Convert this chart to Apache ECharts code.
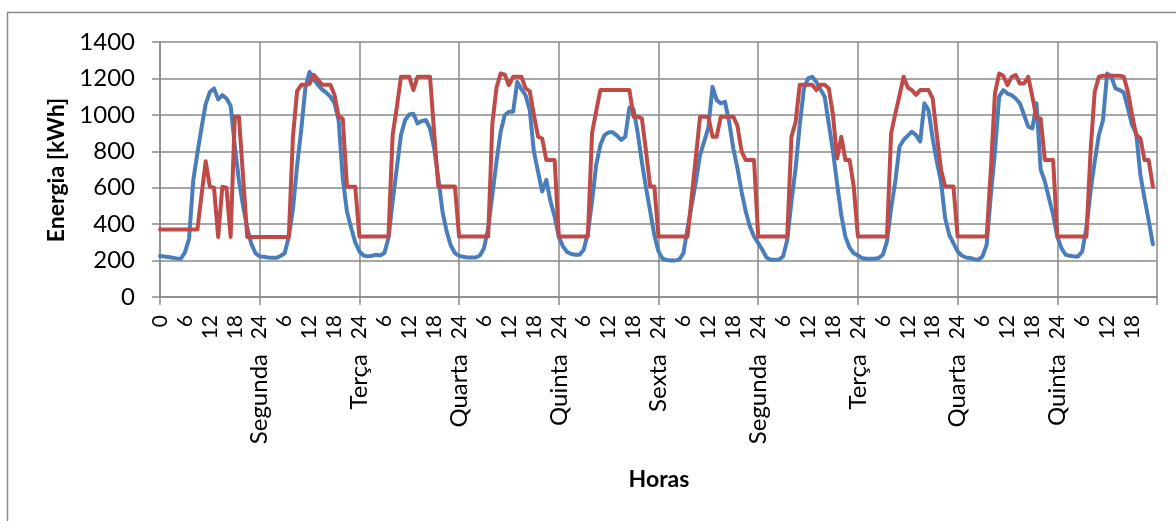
<!DOCTYPE html>
<html>
<head>
<meta charset="utf-8">
<script src="https://cdn.jsdelivr.net/npm/echarts@6/dist/echarts.min.js"></script>
<style>
html,body{margin:0;padding:0;background:#fff;}
#chart{width:1176px;height:521px;}
</style>
</head>
<body>
<div id="chart"></div>
<script>
// Hourly energy values (kWh), one row per day
var serieAzul = [
  225,222,220,216,212,210,245,320,640,790,930,1060,1125,1145,1085,1108,1090,1050,830,640,500,380,290,240,
  223,221,217,215,215,225,240,330,480,720,920,1150,1235,1195,1165,1140,1122,1100,1065,970,650,470,380,300,
  250,228,223,226,232,228,241,323,524,707,889,971,1002,1006,953,966,971,926,816,652,469,360,283,241,
  226,221,217,217,217,228,268,378,561,743,907,999,1017,1017,1181,1141,1108,1026,798,688,579,643,524,442,
  330,278,247,236,232,232,259,351,524,725,834,889,904,904,886,862,880,1040,1030,900,740,600,470,340,
  250,210,203,201,201,205,241,378,506,634,780,853,930,1154,1081,1063,1072,962,816,707,579,469,387,332,
  296,259,217,205,205,206,223,314,524,707,944,1145,1200,1209,1181,1139,1100,950,800,620,450,330,270,240,
  228,214,210,210,210,214,232,305,487,634,825,862,886,907,889,853,1063,1026,871,743,634,433,341,296,
  250,228,217,214,208,204,223,287,560,800,1100,1136,1117,1108,1090,1063,999,935,926,1063,700,634,542,451,
  332,268,232,226,223,223,250,378,579,743,889,971,1227,1209,1145,1136,1123,1035,944,898,670,542,420,290
];
var serieVermelha = [
  370,370,370,370,370,370,370,370,370,370,560,745,605,600,330,605,600,330,990,990,660,330,330,330,
  330,330,330,330,330,330,330,330,880,1130,1165,1165,1170,1220,1195,1165,1165,1165,1110,990,980,605,605,605,
  332,332,332,332,332,332,332,332,890,1040,1209,1209,1209,1136,1209,1209,1209,1209,900,606,606,606,606,606,
  332,332,332,332,332,332,332,332,950,1150,1227,1220,1163,1209,1209,1209,1145,1130,1000,880,870,752,752,752,
  332,332,332,332,332,332,332,332,900,1020,1136,1136,1136,1136,1136,1136,1136,1136,990,990,980,800,606,606,
  332,332,332,332,332,332,332,332,550,770,990,990,990,880,880,990,990,990,990,940,800,752,752,752,
  332,332,332,332,332,332,332,332,880,960,1165,1165,1165,1165,1136,1165,1165,1145,1000,761,880,752,752,606,
  332,332,332,332,332,332,332,332,900,1005,1105,1209,1150,1136,1110,1136,1136,1136,1090,890,700,606,606,606,
  332,332,332,332,332,332,332,332,700,1120,1227,1215,1163,1209,1218,1172,1172,1209,1100,980,980,752,752,752,
  332,332,332,332,332,332,332,332,800,1127,1209,1215,1215,1215,1215,1215,1209,1127,1000,889,871,752,752,606
];
var diasSemana = ['Segunda','Terça','Quarta','Quinta','Sexta','Segunda','Terça','Quarta','Quinta'];
var horasPorDia = 24;
var totalHoras = 240;
var yTicks = {min: 0, max: 1400, step: 200};

var categorias = [];
for (var i = 0; i <= totalHoras; i++) categorias.push(String(i));

var gray = '#8a8a8a';
var font = 'Lato';

function rotuloHora(value, index) {
  var i = Number(value);
  if (i === 0) return '0';
  var h = i % horasPorDia;
  return h === 0 ? '24' : String(h);
}

var chart = echarts.init(document.getElementById('chart'), null, {renderer: 'canvas'});
chart.setOption({
  animation: false,
  backgroundColor: '#ffffff',
  grid: {left: 160, right: 19, top: 42, bottom: 224, containLabel: false},
  xAxis: [{
    type: 'category',
    data: categorias,
    boundaryGap: false,
    axisLine: {show: true, lineStyle: {color: gray, width: 1.5}},
    axisTick: {show: true, length: 8, lineStyle: {color: gray, width: 1.5},
      interval: function (i) { return i % horasPorDia === 0; }},
    splitLine: {show: true, lineStyle: {color: gray, width: 1.5},
      interval: function (i) { return i % horasPorDia === 0; }},
    axisLabel: {
      show: true, rotate: 90, margin: 18, color: '#000', fontFamily: font, fontSize: 21,
      padding: [8, 0, 0, 0],
      interval: function (i) { return i % 6 === 0 && i < totalHoras; },
      formatter: rotuloHora
    }
  }, {
    type: 'category',
    data: categorias,
    boundaryGap: false,
    position: 'bottom',
    axisLine: {show: false},
    axisTick: {show: false},
    splitLine: {show: false},
    axisLabel: {
      show: true, rotate: 90, margin: 57, color: '#000', fontFamily: font, fontSize: 24,
      padding: [8, 0, 0, 0],
      interval: function (i) { return i % horasPorDia === 0 && i > 0 && i < totalHoras; },
      formatter: function (value) { var d = Number(value) / horasPorDia; return diasSemana[d - 1] || ''; }
    }
  }],
  yAxis: {
    type: 'value',
    min: yTicks.min, max: yTicks.max, interval: yTicks.step,
    axisLine: {show: true, lineStyle: {color: gray, width: 1.5}},
    axisTick: {show: true, length: 8, lineStyle: {color: gray, width: 1.5}},
    splitLine: {show: true, lineStyle: {color: gray, width: 1.5}},
    axisLabel: {color: '#000', fontFamily: font, fontSize: 24, margin: 25,
      formatter: function (v) { return String(v); }}
  },
  series: [{
    name: 'Real', type: 'line', xAxisIndex: 0, data: serieAzul, showSymbol: false,
    lineStyle: {color: '#4A7EBB', width: 4, cap: 'round', join: 'round'},
    itemStyle: {color: '#4A7EBB'}
  }, {
    name: 'Previsto', type: 'line', xAxisIndex: 0, data: serieVermelha, showSymbol: false,
    lineStyle: {color: '#BE4B48', width: 4, cap: 'round', join: 'round'},
    itemStyle: {color: '#BE4B48'}
  }],
  graphic: [
    {type: 'polyline', shape: {points: [[7.5, 521], [7.5, 12.5], [1176, 12.5]]},
      style: {stroke: gray, lineWidth: 1.5, fill: null}, silent: true},
    {type: 'text', x: 57, y: 170, rotation: Math.PI / 2,
      style: {text: 'Energia [kWh]', font: 'bold 23px Lato', fill: '#000', textAlign: 'center', textVerticalAlign: 'middle'}},
    {type: 'text', x: 659, y: 480,
      style: {text: 'Horas', font: 'bold 23px Lato', fill: '#000', textAlign: 'center', textVerticalAlign: 'middle'}}
  ]
});
</script>
</body>
</html>
